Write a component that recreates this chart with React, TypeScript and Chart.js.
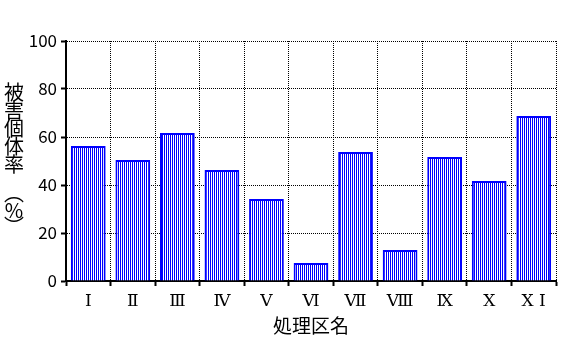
import React, { useEffect, useRef } from "react";
import { Chart, registerables } from "chart.js";

Chart.register(...registerables);

const categories = ["Ⅰ", "Ⅱ", "Ⅲ", "Ⅳ", "Ⅴ", "Ⅵ", "Ⅶ", "Ⅷ", "Ⅸ", "Ⅹ", "Ⅹ Ⅰ"];
const damageRate = [56.2, 50.4, 61.7, 46.2, 34.2, 7.5, 53.7, 12.9, 51.7, 41.7, 68.7];
const yTitleChars = ["被", "害", "個", "体", "率", "︵", "%", "︶"];
const xTitle = "処理区名";

const FONT = "'Noto Sans CJK JP', 'Noto Sans', sans-serif";
const SERIF = "'DejaVu Serif', 'Liberation Serif', serif";

function makePattern(): CanvasPattern | string {
  const c = document.createElement("canvas");
  c.width = 2;
  c.height = 1;
  const g = c.getContext("2d");
  if (!g) return "#0000ff";
  g.fillStyle = "#ffffff";
  g.fillRect(0, 0, 2, 1);
  g.fillStyle = "#0000ff";
  g.fillRect(0, 0, 1, 1);
  const p = g.createPattern(c, "repeat");
  return p || "#0000ff";
}

const yTitlePlugin = {
  id: "yTitleVertical",
  afterDraw(chart: any) {
    const ctx = chart.ctx;
    ctx.save();
    ctx.fillStyle = "#000";
    ctx.font = `20px ${FONT}`;
    ctx.textAlign = "center";
    ctx.textBaseline = "middle";
    const x = 14;
    const ys = [92, 110, 128, 146, 164, 193, 210, 226];
    yTitleChars.forEach((ch, i) => ctx.fillText(ch, x, ys[i]));
    ctx.restore();
  },
};

export default function App() {
  const ref = useRef<HTMLCanvasElement>(null);
  useEffect(() => {
    if (!ref.current) return;
    const chart = new Chart(ref.current, {
      type: "bar",
      data: {
        labels: categories,
        datasets: [
          {
            data: damageRate,
            backgroundColor: makePattern() as any,
            borderColor: "#0000ff",
            borderWidth: 2,
            categoryPercentage: 1,
            barPercentage: 0.78,
          },
        ],
      },
      options: {
        animation: false,
        responsive: false,
        devicePixelRatio: 1,
        layout: { padding: { top: 41, right: 11, left: 0, bottom: 0 } },
        plugins: { legend: { display: false }, tooltip: { enabled: false } },
        scales: {
          x: {
            offset: true,
            grid: {
              offset: true,
              color: "#000",
              lineWidth: 1,
              tickLength: 5,
              tickColor: "#000",
              tickWidth: 2,
              tickBorderDash: [],
            } as any,
            border: { display: true, color: "#000", width: 2, dash: [1, 1] },
            ticks: {
              color: "#000",
              font: { family: SERIF, size: 17 },
              padding: 5,
              maxRotation: 0,
              autoSkip: false,
            },
            title: {
              display: true,
              text: xTitle,
              color: "#000",
              font: { family: FONT, size: 19 },
              padding: { top: 0, bottom: 3 },
            },
            afterFit(scale: any) {
              scale.height = 59;
            },
          },
          y: {
            min: 0,
            max: 100,
            grid: {
              color: "#000",
              lineWidth: 1,
              tickLength: 5,
              tickColor: "#000",
              tickWidth: 2,
              tickBorderDash: [],
            } as any,
            border: { display: true, color: "#000", width: 2, dash: [1, 1] },
            ticks: {
              stepSize: 20,
              color: "#000",
              font: { family: FONT, size: 17 },
              padding: 4,
            },
            afterFit(scale: any) {
              scale.width = 66;
            },
          },
        },
      },
      plugins: [yTitlePlugin],
    });
    return () => chart.destroy();
  }, []);
  return (
    <div style={{ position: "fixed", left: 0, top: 0, width: 567, height: 340, background: "#fff" }}>
      <canvas ref={ref} width={567} height={340} style={{ width: 567, height: 340, display: "block" }} />
    </div>
  );
}
